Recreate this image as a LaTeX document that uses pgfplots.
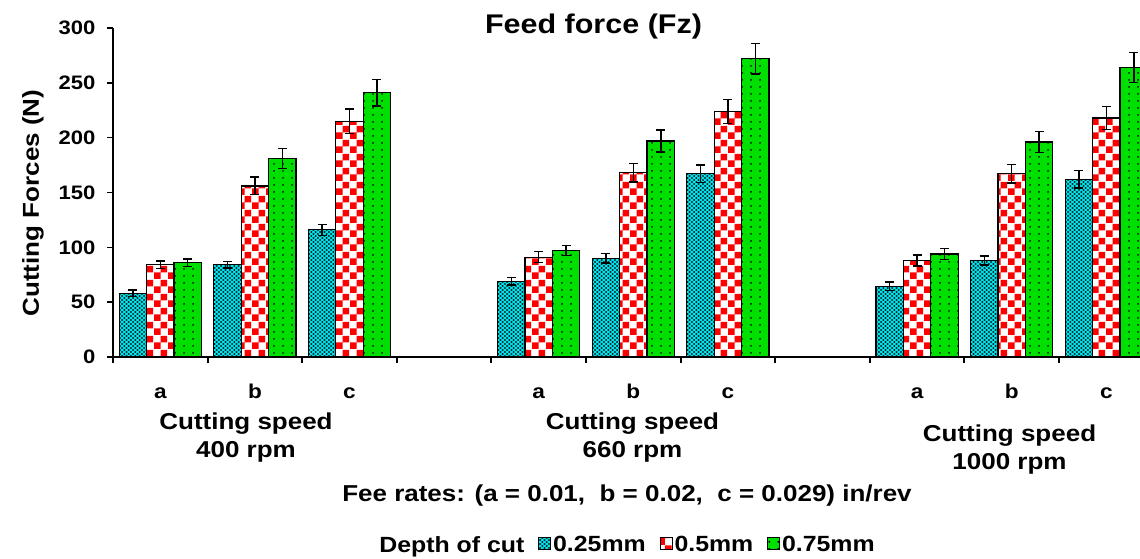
\documentclass[border=0pt]{standalone}
\usepackage{fontspec}
\setmainfont{Liberation Sans}[FakeStretch=1.13]
\usepackage{pgfplots}
\pgfplotsset{compat=1.18}
\usetikzlibrary{patterns}

\definecolor{cyanb}{RGB}{0,230,240}
\definecolor{redb}{RGB}{255,0,0}
\definecolor{greenb}{RGB}{0,224,0}

\pgfdeclarepatternformonly{tealdots}{\pgfqpoint{-1pt}{-1pt}}{\pgfqpoint{5.5pt}{5pt}}{\pgfqpoint{4.4pt}{4pt}}{%
  \pgfpathellipse{\pgfqpoint{1.1pt}{1pt}}{\pgfqpoint{1.25pt}{0pt}}{\pgfqpoint{0pt}{0.85pt}}%
  \pgfpathellipse{\pgfqpoint{3.3pt}{3pt}}{\pgfqpoint{1.25pt}{0pt}}{\pgfqpoint{0pt}{0.85pt}}%
  \pgfusepath{fill}}
\pgfdeclarepatternformonly{bigcheck}{\pgfqpoint{0pt}{0pt}}{\pgfqpoint{14pt}{14pt}}{\pgfqpoint{14pt}{14pt}}{%
  \pgfpathrectangle{\pgfqpoint{0pt}{0pt}}{\pgfqpoint{7pt}{7pt}}%
  \pgfpathrectangle{\pgfqpoint{7pt}{7pt}}{\pgfqpoint{7pt}{7pt}}%
  \pgfusepath{fill}}
\pgfdeclarepatternformonly{greendots}{\pgfqpoint{0pt}{0pt}}{\pgfqpoint{9pt}{7pt}}{\pgfqpoint{9pt}{7pt}}{%
  \pgfpathcircle{\pgfqpoint{4.5pt}{3.5pt}}{1.1pt}%
  \pgfusepath{fill}}

\pgfplotsset{
  mybar/.style={draw=black, line width=1.2pt,
    legend image code/.code={\draw[##1, line width=0.8pt] (0pt,-5pt) rectangle (12pt,7pt);}},
}

\begin{document}
\begin{tikzpicture}
\useasboundingbox (-113pt,-202pt) rectangle (1027pt,357pt);
\begin{axis}[
  at={(0pt,0pt)}, anchor=south west,
  scale only axis, width=1027pt, height=329pt,
  xmin=-0.5, xmax=10.356, ymin=0, ymax=300,
  ybar, bar width=0.29,
  axis x line*=bottom, axis y line*=left,
  axis line style={-, line width=2pt},
  tick align=outside,
  major tick length=6pt,
  ytick={0,50,...,300},
  ytick style={line width=1.5pt, black},
  xtick={-0.5,0.5,...,10.5},
  xticklabels={},
  xtick style={line width=2pt, black},
  extra x ticks={0,1,2,4,5,6,8,9,10},
  extra x tick labels={a,b,c,a,b,c,a,b,c},
  extra x tick style={tick style={draw=none},
    xticklabel style={anchor=base, yshift=-35pt, font=\bfseries\fontsize{20}{20}\selectfont}},
  /pgf/number format/assume math mode=true,
  yticklabel style={font=\bfseries\fontsize{19.5}{19.5}\selectfont, xshift=-8pt},
  clip=true,
  legend columns=-1,
  legend style={draw=none, fill=none, at={(axis description cs:0.5005,-0.571)}, anchor=center,
    font=\bfseries\fontsize{22}{22}\selectfont,
    /tikz/every even column/.append style={column sep=12pt},
    /tikz/every odd column/.append style={column sep=0pt}},
]
\addlegendimage{empty legend}
\addlegendentry{Depth of cut\hspace{6pt}}

\addplot[mybar, fill=cyanb, postaction={pattern=tealdots, pattern color=black}, bar shift=-0.29,
  error bars/.cd, y dir=both, y explicit,
  error bar style={line width=1.5pt, black},
  error mark options={rotate=90, mark size=4.5pt, line width=1.5pt, black}]
coordinates {
 (0,58) +- (0,3)   (1,84) +- (0,3)   (2,116) +- (0,5)
 (4,69) +- (0,3.5) (5,90) +- (0,4.5) (6,167) +- (0,8)
 (8,64.5) +- (0,4) (9,88) +- (0,4)   (10,162) +- (0,8)
};
\addlegendentry{0.25mm}

\addplot[mybar, fill=white, postaction={pattern=bigcheck, pattern color=redb}, bar shift=0,
  error bars/.cd, y dir=both, y explicit,
  error bar style={line width=1.5pt, black},
  error mark options={rotate=90, mark size=4.5pt, line width=1.5pt, black}]
coordinates {
 (0,84) +- (0,3.5) (1,156) +- (0,8)  (2,215) +- (0,11)
 (4,91) +- (0,5)   (5,168) +- (0,8.5) (6,224) +- (0,11)
 (8,88) +- (0,5)   (9,167) +- (0,8.5) (10,218) +- (0,10.5)
};
\addlegendentry{0.5mm}

\addplot[mybar, fill=greenb, postaction={pattern=greendots, pattern color=black}, bar shift=0.29,
  error bars/.cd, y dir=both, y explicit,
  error bar style={line width=1.5pt, black},
  error mark options={rotate=90, mark size=4.5pt, line width=1.5pt, black}]
coordinates {
 (0,86) +- (0,3.5) (1,181) +- (0,9)  (2,241) +- (0,12)
 (4,97) +- (0,4.5) (5,197) +- (0,10) (6,272) +- (0,14)
 (8,94) +- (0,5)   (9,196) +- (0,9.5) (10,264) +- (0,13.5)
};
\addlegendentry{0.75mm}
\end{axis}

\begin{scope}[every node/.style={inner sep=0pt}]
\node[anchor=base, font=\bfseries\fontsize{27}{27}\selectfont] at (480.5pt,323pt) {Feed force (Fz)};
\node[anchor=base, rotate=90, font=\bfseries\fontsize{23}{23}\selectfont] at (-74pt,154pt) {Cutting Forces (N)};
\begin{scope}[every node/.append style={anchor=base, font=\bfseries\fontsize{23}{23}\selectfont}]
\node at (133pt,-73pt) {Cutting speed};
\node at (133pt,-101pt) {400 rpm};
\node at (519.5pt,-73pt) {Cutting speed};
\node at (519.5pt,-101pt) {660 rpm};
\node at (896.5pt,-85pt) {Cutting speed};
\node at (896.5pt,-113pt) {1000 rpm};
\node at (514pt,-145pt) {Fee rates: (a = 0.01,\ \ b = 0.02,\ \ c = 0.029) in/rev};
\end{scope}
\end{scope}
\end{tikzpicture}
\end{document}
